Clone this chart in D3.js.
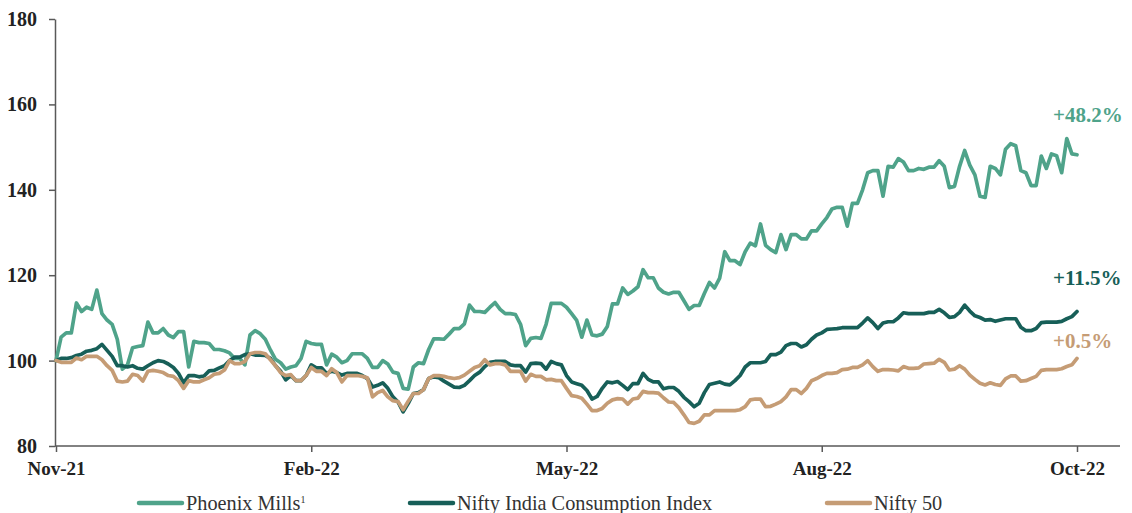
<!DOCTYPE html>
<html>
<head>
<meta charset="utf-8">
<script src="https://cdn.jsdelivr.net/npm/d3@7"></script>
<style>
  body { margin: 0; background: #fff; }
  svg { display: block; }
</style>
</head>
<body>
<div id="chart"></div>
<script>
// rebased to 100 at Nov-21, roughly every 2nd trading day
const phoenix = [
  100, 105.5, 106.5, 106.5, 113.5, 111.5, 112.5, 112, 116.5, 111, 109.5, 108.5, 105, 98, 99, 103, 103.3, 103.5, 109, 106.5,
  106.5, 107.5, 106, 105.4, 106.8, 106.8, 98.5, 104.5, 104.2, 104.2, 104, 102.6, 102.6, 102.3, 101.8, 100.5, 100.5, 99, 106, 107,
  106.3, 105, 102.5, 100.3, 99.5, 98, 98.5, 98.8, 100.5, 104.5, 104,
  103.8, 103.8, 99, 101.5, 100.8, 99.5, 100, 101.6, 101.6, 101.6, 100.5, 98.4, 98.4, 100, 99.2, 97.3, 97, 93.5, 93.3, 98.5,
  99.5, 99.3, 102.6, 105.1, 105.1, 105, 106.2, 107.5, 107.5, 108.6, 113, 111.5, 111.5, 111.3, 112.5, 113.6, 112, 111, 111, 110.8,
  108.5, 103.5, 105.2, 105.4, 105.2, 108.5, 113.4, 113.4, 113.4, 112.5,
  111, 109.4, 105.5, 109.5, 106, 105.8, 106.2, 108, 113.3, 113.3, 117, 115.5, 116.3, 117.3, 121.3, 119.4, 119.4, 117, 116, 115.6,
  116, 116, 114, 112, 112.9, 112.9, 115.7, 118.3, 117, 119.3, 125.5, 123.4, 123.4, 122.5, 125.5, 127.5, 126.9, 132, 127, 126,
  125.3, 129.5, 126, 129.5, 129.5, 128.5, 128.5, 130.4, 130.4, 132,
  133.5, 135.5, 135.9, 135.9, 131.5, 136.8, 136.8, 140, 144, 144.5, 144.5, 138.5, 145.5, 145.3, 147.3, 146.5, 144.5, 144.5, 145, 144.8,
  145.3, 145.3, 146.8, 145.5, 140.5, 140.8, 145.5, 149.2, 145.8, 143.5, 138.5, 138.2, 145.5, 145, 143.5, 149.5, 150.8, 150.3, 144.5, 144,
  141, 141, 147.9, 145, 148.4, 148, 144, 152, 148.4, 148.2
];
const consumption = [
  100, 100.5, 100.5, 100.7, 101.2, 101.5, 102.2, 102.4, 102.8, 103.8, 102.4, 101, 98.8, 98.8, 98.5, 98.8, 98.2, 98, 98.8, 99.5,
  100, 99.8, 99.2, 98.4, 97, 94.8, 96.5, 96.5, 96.2, 96.4, 97.6, 97.7, 98.3, 98.8, 100, 100.8, 100.8, 101.4, 101.6, 101.3,
  101.3, 101.2, 100.5, 98.8, 97.5, 95.5, 96.5, 95.3, 95.3, 96.5, 99,
  98.3, 98.3, 97, 97.5, 97.2, 96.6, 97, 97, 97, 96.5, 95.8, 93.8, 94.2, 94.8, 93.5, 91.5, 90.3, 88, 90, 92.3,
  92.5, 93.2, 95.8, 96.2, 96, 95.2, 94.5, 93.8, 93.7, 94.2, 95.3, 96.5, 97.3, 98.6, 99.6, 99.8, 99.8, 99.8, 99, 98.8,
  98.8, 97.3, 99.3, 99.4, 99.3, 98, 99.8, 99.3, 99, 96.5,
  95, 94.6, 94.2, 93, 91, 91.6, 93.5, 95, 94.8, 95.1, 94.2, 93.2, 94.6, 94.6, 97, 95.6, 95, 95, 93.4, 93.7,
  93.7, 92.8, 91.4, 90.4, 89.2, 90, 92.5, 94.4, 94.7, 95, 94.5, 94.3, 95.3, 96.5, 98.5, 99.5, 99.5, 99.5, 99.8, 101.4,
  101.4, 102, 103.5, 104, 104, 103.2, 103.7, 105, 106, 106.5,
  107.3, 107.4, 107.5, 107.7, 107.7, 107.7, 107.7, 108.8, 110, 108.9, 107.5, 108.8, 109.1, 109.1, 110, 111.2, 111, 111, 111, 111,
  111.3, 111.3, 112, 111.2, 110.1, 110.3, 111.3, 113, 111.6, 110.5, 110.1, 109.5, 109.6, 109.2, 109.5, 109.8, 109.8, 109.8, 107.8, 107,
  107, 107.5, 108.9, 109, 109, 109, 109.2, 109.8, 110.3, 111.5
];
const nifty50 = [
  100, 99.6, 99.6, 99.6, 100.6, 100.2, 101, 101, 101, 100.2, 98.8, 97.7, 95.2, 95, 95.2, 96.8, 96.5, 95.2, 97.5, 97.7,
  97.5, 97.2, 96.5, 96.3, 95.3, 93.5, 95.3, 95, 95, 95.5, 96, 96.8, 97, 97.8, 100, 99.3, 99.3, 99.8, 101.6, 101.9,
  101.9, 101.6, 100.2, 98.8, 97.2, 96.5, 96.7, 95.3, 95.3, 96.5, 98.4,
  97.5, 97.5, 96.5, 98.1, 97.2, 95, 96.5, 96.5, 96.5, 96.3, 96, 91.5, 92.5, 93, 91.5, 90.6, 90.4, 88.5, 90.5, 92.3,
  92.3, 93.2, 95.8, 96.5, 96.5, 96.3, 96, 95.8, 96, 96.6, 97.5, 98.4, 98.8, 100.2, 99, 99.3, 99.3, 99, 97.5, 97.5,
  97.5, 95.2, 96.8, 96.3, 96.3, 95.5, 95.6, 95.3, 95.3, 93.5,
  91.8, 91.6, 91.2, 89.8, 88.3, 88.3, 88.8, 90, 90.8, 91.1, 91, 89.8, 91, 91.2, 92.8, 92.5, 92.5, 92.4, 91.3, 90.3,
  90.2, 89, 87.3, 85.5, 85.3, 85.8, 87.3, 87.3, 88.3, 88.3, 88.3, 88.3, 88.3, 88.5, 89.2, 90.8, 91, 91, 89.2, 89.3,
  89.8, 90.4, 91.5, 93.2, 93.2, 92.3, 93.5, 95.3, 95.8, 96.5,
  97, 97, 97.2, 97.9, 98, 98.4, 98.4, 99, 100, 98.6, 97.5, 97.9, 97.9, 97.8, 97.6, 98.6, 98.2, 98.2, 98.3, 99.2,
  99.3, 99.4, 100.3, 99.6, 97.8, 98, 98.8, 98, 96.6, 95.6, 94.7, 94.3, 94.8, 94.4, 94.2, 95.7, 96.4, 96.4, 95.2, 95.3,
  95.8, 96.3, 97.7, 97.9, 97.9, 97.9, 98.1, 98.6, 99, 100.5
];

const seriesNames = ["Phoenix Mills", "Nifty India Consumption Index", "Nifty 50"];
const seriesColors = ["#4fa38a", "#175f58", "#c59c75"];
const endLabels = ["+48.2%", "+11.5%", "+0.5%"];
const xTickIdx = [0, 50, 100, 150, 200];
const xTickLabels = ["Nov-21", "Feb-22", "May-22", "Aug-22", "Oct-22"];
const yTicks = [80, 100, 120, 140, 160, 180];

const W = 1132, H = 513;
const font = "'Liberation Serif', 'Times New Roman', serif";

const svg = d3.select("#chart").append("svg")
  .attr("width", W)
  .attr("height", H);

const x = d3.scaleLinear().domain([0, 200]).range([56, 1077]);
const y = d3.scaleLinear().domain([80, 180]).range([446, 19]);

// y axis
const yAxis = svg.append("g")
  .attr("transform", "translate(55,0)")
  .call(d3.axisLeft(y).tickValues(yTicks).tickSize(6).tickSizeOuter(0).tickPadding(12));
yAxis.select(".domain").attr("stroke", "#595959").attr("stroke-width", 1.5);
yAxis.selectAll(".tick line").attr("stroke", "#595959").attr("stroke-width", 1.5);
yAxis.selectAll(".tick text")
  .style("font-family", font)
  .style("font-size", "20px")
  .style("font-weight", "bold")
  .attr("fill", "#222");

// x axis
const xAxis = svg.append("g")
  .attr("transform", "translate(0,446)")
  .call(d3.axisBottom(x).tickValues(xTickIdx).tickFormat((d, i) => xTickLabels[i]).tickSize(6).tickSizeOuter(0).tickPadding(10));
xAxis.select(".domain").attr("d", "M55,0H1120").attr("stroke", "#595959").attr("stroke-width", 1.5);
xAxis.selectAll(".tick line").attr("stroke", "#595959").attr("stroke-width", 1.5);
xAxis.selectAll(".tick text")
  .style("font-family", font)
  .style("font-size", "19px")
  .style("font-weight", "bold")
  .attr("fill", "#222");

const line = d3.line()
  .x((d, i) => x(i))
  .y(d => y(d));

const allSeries = [phoenix, consumption, nifty50];

svg.append("g").selectAll("path")
  .data(allSeries)
  .enter()
  .append("path")
  .attr("d", d => line(d))
  .attr("fill", "none")
  .attr("stroke", (d, i) => seriesColors[i])
  .attr("stroke-width", 3.7)
  .attr("stroke-linejoin", "round")
  .attr("stroke-linecap", "round");

// end-of-series change labels
const labelOffset = [-33, -26, -10];
svg.append("g").selectAll("text")
  .data(allSeries)
  .enter()
  .append("text")
  .attr("x", x(200) - 24)
  .attr("y", (d, i) => y(d[d.length - 1]) + labelOffset[i])
  .attr("fill", (d, i) => seriesColors[i])
  .style("font-family", font)
  .style("font-size", "21px")
  .style("font-weight", "bold")
  .text((d, i) => endLabels[i]);

// legend
const legendX = [139, 410, 827];
const legend = svg.append("g");
seriesNames.forEach((name, i) => {
  const g = legend.append("g").attr("transform", `translate(${legendX[i]},503)`);
  g.append("line")
    .attr("x1", 0).attr("x2", 43)
    .attr("stroke", seriesColors[i])
    .attr("stroke-width", 4.5)
    .attr("stroke-linecap", "round");
  const t = g.append("text")
    .attr("x", 47)
    .attr("y", 7)
    .attr("fill", "#333")
    .style("font-family", font)
    .style("font-size", "20.3px")
    .text(name);
  if (i === 0) {
    t.append("tspan")
      .attr("dy", -7)
      .style("font-size", "10px")
      .text("1");
  }
});
</script>
</body>
</html>
